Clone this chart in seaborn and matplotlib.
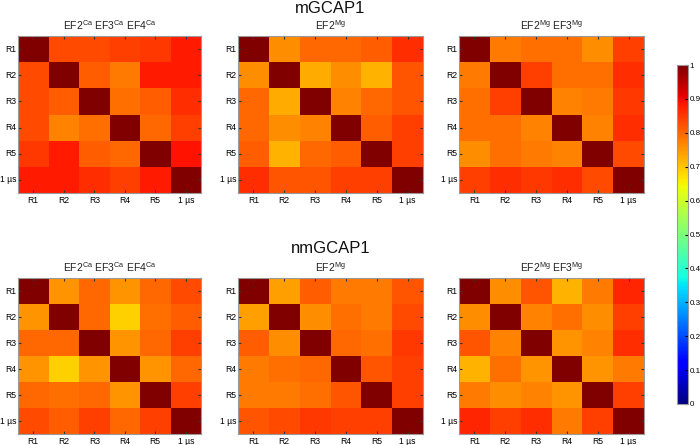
import numpy as np
import pandas as pd
import matplotlib
matplotlib.use("Agg")
import matplotlib.pyplot as plt
import seaborn as sns

labels = ["R1", "R2", "R3", "R4", "R5", "1 \u00b5s"]

m_ca = [[1.00, 0.83, 0.83, 0.84, 0.85, 0.88],
        [0.83, 1.00, 0.81, 0.78, 0.88, 0.88],
        [0.83, 0.81, 1.00, 0.79, 0.81, 0.86],
        [0.83, 0.77, 0.79, 1.00, 0.80, 0.84],
        [0.85, 0.88, 0.81, 0.80, 1.00, 0.89],
        [0.88, 0.88, 0.86, 0.84, 0.88, 1.00]]

m_mg = [[1.00, 0.76, 0.80, 0.80, 0.81, 0.86],
        [0.76, 1.00, 0.73, 0.76, 0.72, 0.82],
        [0.80, 0.73, 1.00, 0.77, 0.80, 0.82],
        [0.80, 0.76, 0.77, 1.00, 0.81, 0.84],
        [0.81, 0.72, 0.80, 0.81, 1.00, 0.84],
        [0.86, 0.82, 0.82, 0.84, 0.84, 1.00]]

m_mg2 = [[1.00, 0.78, 0.79, 0.79, 0.76, 0.84],
         [0.78, 1.00, 0.84, 0.79, 0.79, 0.86],
         [0.79, 0.84, 1.00, 0.77, 0.78, 0.85],
         [0.79, 0.79, 0.77, 1.00, 0.77, 0.86],
         [0.76, 0.79, 0.78, 0.77, 1.00, 0.83],
         [0.84, 0.86, 0.85, 0.86, 0.83, 1.00]]

nm_ca = [[1.00, 0.75, 0.80, 0.75, 0.80, 0.83],
         [0.75, 1.00, 0.80, 0.69, 0.79, 0.81],
         [0.80, 0.80, 1.00, 0.75, 0.80, 0.84],
         [0.75, 0.69, 0.75, 1.00, 0.75, 0.80],
         [0.80, 0.79, 0.80, 0.75, 1.00, 0.84],
         [0.83, 0.81, 0.84, 0.80, 0.84, 1.00]]

nm_mg = [[1.00, 0.74, 0.81, 0.78, 0.78, 0.82],
         [0.74, 1.00, 0.76, 0.79, 0.78, 0.83],
         [0.81, 0.76, 1.00, 0.80, 0.79, 0.85],
         [0.78, 0.79, 0.80, 1.00, 0.82, 0.84],
         [0.78, 0.78, 0.79, 0.82, 1.00, 0.84],
         [0.82, 0.83, 0.85, 0.84, 0.84, 1.00]]

nm_mg2 = [[1.00, 0.76, 0.82, 0.72, 0.78, 0.87],
          [0.76, 1.00, 0.77, 0.79, 0.76, 0.84],
          [0.82, 0.77, 1.00, 0.75, 0.77, 0.86],
          [0.72, 0.79, 0.75, 1.00, 0.75, 0.78],
          [0.78, 0.76, 0.77, 0.75, 1.00, 0.84],
          [0.87, 0.84, 0.86, 0.78, 0.84, 1.00]]

titles = ["EF2$^{\\mathrm{Ca}}$ EF3$^{\\mathrm{Ca}}$ EF4$^{\\mathrm{Ca}}$",
          "EF2$^{\\mathrm{Mg}}$",
          "EF2$^{\\mathrm{Mg}}$ EF3$^{\\mathrm{Mg}}$"]
row_titles = ["mGCAP1", "nmGCAP1"]
cbar_ticks = [0, 0.1, 0.2, 0.3, 0.4, 0.5, 0.6, 0.7, 0.8, 0.9, 1]
cbar_labels = ["0", "0.1", "0.2", "0.3", "0.4", "0.5", "0.6", "0.7", "0.8", "0.9", "1"]

plt.rcParams['font.family'] = ['Liberation Sans', 'DejaVu Sans']
plt.rcParams['mathtext.fontset'] = 'custom'
plt.rcParams['mathtext.rm'] = 'Liberation Sans'
plt.rcParams['mathtext.it'] = 'Liberation Sans'

W, H = 700, 445
fig = plt.figure(figsize=(7, 4.45), dpi=100)

def box(x0, y0, x1, y1):
    return [x0 / W, 1 - y1 / H, (x1 - x0) / W, (y1 - y0) / H]

xs = [(18, 201), (238, 423), (459, 644)]
ys = [(36, 193), (278, 434)]
mats = [[m_ca, m_mg, m_mg2], [nm_ca, nm_mg, nm_mg2]]
sup_y = [8.5, 249]

cmap = plt.get_cmap('jet')
edge = '#9a9a9a'
for r in range(2):
    for c in range(3):
        ax = fig.add_axes(box(xs[c][0], ys[r][0], xs[c][1], ys[r][1]))
        df = pd.DataFrame(mats[r][c], index=labels, columns=labels)
        sns.heatmap(df, ax=ax, cmap=cmap, vmin=0, vmax=1, cbar=False,
                    square=False, linewidths=0)
        ax.set_title(titles[c], fontsize=7.5, pad=4.5, color='#222222')
        ax.tick_params(axis='both', labelsize=6.2, length=2.0, direction='in',
                       top=True, right=True, color='#333333')
        ax.tick_params(axis='x', pad=2)
        ax.tick_params(axis='y', pad=1.2)
        ax.set_yticklabels(labels, rotation=0)
        ax.set_xticklabels(labels, rotation=0)
        for s in ax.spines.values():
            s.set_visible(True)
            s.set_color(edge)
            s.set_linewidth(0.8)
    fig.text(0.5 * (xs[1][0] + xs[1][1]) / W, 1 - sup_y[r] / H, row_titles[r],
             ha='center', va='center', fontsize=12, color='#111111')

cax = fig.add_axes(box(677, 65, 688, 404))
sm = matplotlib.cm.ScalarMappable(norm=matplotlib.colors.Normalize(0, 1), cmap=cmap)
cb = fig.colorbar(sm, cax=cax)
cb.set_ticks(cbar_ticks)
cb.set_ticklabels(cbar_labels)
cb.ax.tick_params(labelsize=5.8, length=2.5, direction='in', pad=1)
cb.outline.set_edgecolor(edge)
cb.outline.set_linewidth(0.8)

fig.savefig("out.png", dpi=100)
